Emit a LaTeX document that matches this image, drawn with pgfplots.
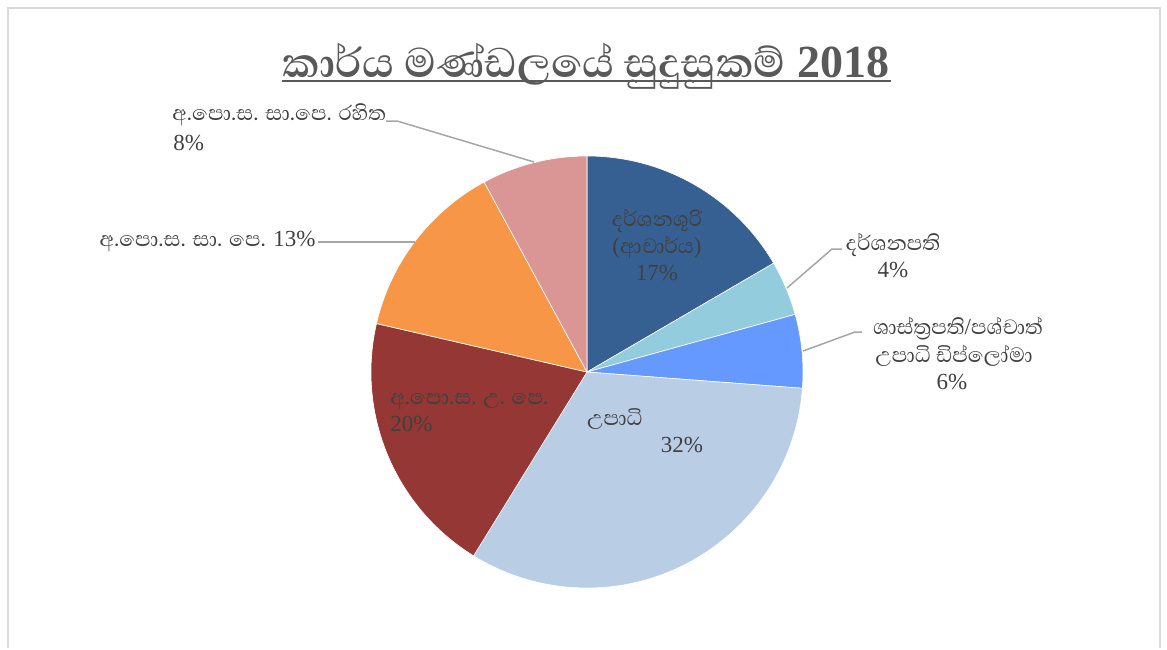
\documentclass[border=0pt]{standalone}
\usepackage{pgfplots}
\pgfplotsset{compat=1.18}
\usepackage{pgfplotstable}
\usepackage{fontspec}
\setmainfont{Liberation Serif}
\newfontfamily\sinhala[Script=Sinhala, Scale=1.15]{Abhaya Libre}

\definecolor{cA}{HTML}{376092}
\definecolor{cB}{HTML}{93CDDD}
\definecolor{cC}{HTML}{6699FF}
\definecolor{cD}{HTML}{B9CDE5}
\definecolor{cE}{HTML}{953735}
\definecolor{cF}{HTML}{F79646}
\definecolor{cG}{HTML}{D99694}
\definecolor{txt}{HTML}{404040}
\definecolor{ttl}{HTML}{595959}
\definecolor{lead}{HTML}{A6A6A6}
\definecolor{frame}{HTML}{D9D9D9}

% share of each slice, clockwise from the top
\pgfplotstableread{
share colour
16.6 cA
4.1  cB
5.5  cC
32.6 cD
19.8 cE
13.5 cF
7.9  cG
}\pietable

\newcommand\lab[4]{\node[anchor=#3, inner sep=0pt, text=txt, font=\fontsize{11.5}{13.5}\selectfont] at (axis cs:#1,#2) {#4};}

\begin{document}
\begin{tikzpicture}[leader/.style={draw=lead, line width=0.75pt}]
\begin{axis}[
  hide axis, scale only axis,
  width=583.5pt, height=324pt,
  xmin=0, xmax=1167, ymin=0, ymax=648,
  y dir=reverse, clip=false
]
\path (axis cs:0,0) rectangle (axis cs:1167,648);
\draw[frame, line width=1pt] (axis cs:8,648) -- (axis cs:8,8) -- (axis cs:1160,8) -- (axis cs:1160,648);

\def\cum{0}
\pgfplotsforeachungrouped \i in {0,...,6}{%
  \pgfplotstablegetelem{\i}{share}\of\pietable \let\sv\pgfplotsretval
  \pgfplotstablegetelem{\i}{colour}\of\pietable \let\scol\pgfplotsretval
  \pgfmathsetmacro\sa{90-3.6*\cum}%
  \pgfmathsetmacro\sb{90-3.6*(\cum+\sv)}%
  \pgfmathsetmacro\cum{\cum+\sv}%
  \edef\temp{\noexpand\fill[\scol, draw=white, line width=0.3pt] (axis cs:587,372) -- ++(\sa:108pt) arc[start angle=\sa, end angle=\sb, radius=108pt] -- cycle;}%
  \temp
}

% title
\node[anchor=base, inner sep=0pt, text=ttl, font=\fontsize{23}{27}\selectfont\bfseries] at (axis cs:586,77) {{\sinhala කාර්ය මණ්ඩලයේ සුදුසුකම්} 2018};
\draw[ttl, line width=1pt] (axis cs:282,81) -- (axis cs:891,81);

% leader lines
\draw[leader] (axis cs:386,121) -- (axis cs:397,121) -- (axis cs:534,162);
\draw[leader] (axis cs:318,242) -- (axis cs:415,242);
\draw[leader] (axis cs:787,288) -- (axis cs:832,249) -- (axis cs:842,249);
\draw[leader] (axis cs:803,351) -- (axis cs:855,332) -- (axis cs:862,332);

% labels
\lab{172}{120}{base west}{\sinhala අ.පො.ස. සා.පෙ. රහිත}
\lab{173}{150}{base west}{8\%}
\lab{316}{246}{base east}{{\sinhala අ.පො.ස. සා. පෙ.} 13\%}
\lab{657}{226}{base}{\sinhala දර්ශනශූරි}
\lab{657}{253}{base}{({\sinhala ආචාර්ය})}
\lab{657}{280}{base}{17\%}
\lab{893}{250}{base}{\sinhala දර්ශනපති}
\lab{893}{277}{base}{4\%}
\lab{958}{334}{base}{{\sinhala ශාස්ත්‍රපති}/{\sinhala පශ්චාත්}}
\lab{954}{362}{base}{\sinhala උපාධි ඩිප්ලෝමා}
\lab{952}{389}{base}{6\%}
\lab{390}{404}{base west}{\sinhala අ.පො.ස. උ. පෙ.}
\lab{390}{431}{base west}{20\%}
\lab{615}{425}{base}{\sinhala උපාධි}
\lab{682}{452}{base}{32\%}
\end{axis}
\end{tikzpicture}
\end{document}
